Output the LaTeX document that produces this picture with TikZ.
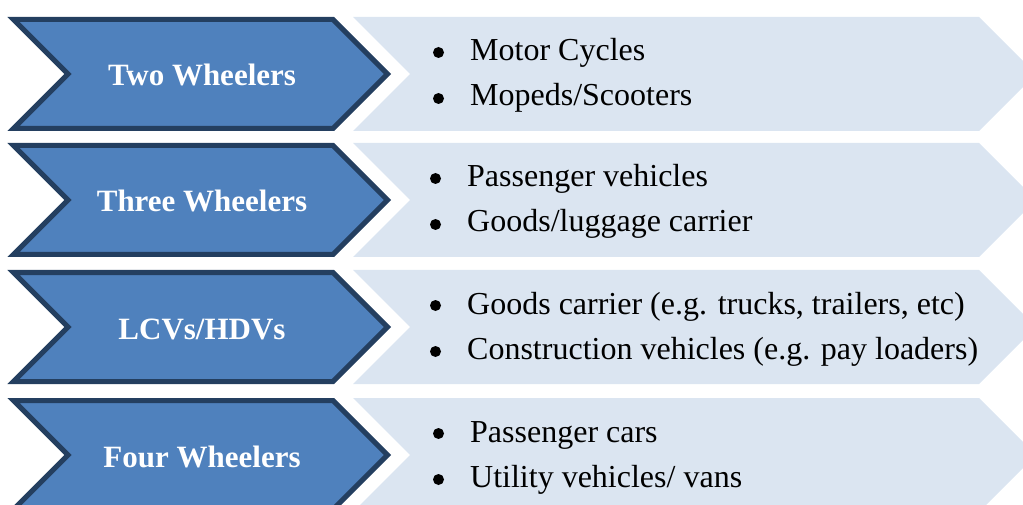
\documentclass[tikz,border=0pt]{standalone}
\usepackage{fontspec}
\setmainfont{Liberation Serif}
\definecolor{chevfill}{HTML}{4F81BD}
\definecolor{chevline}{HTML}{243F60}
\definecolor{listfill}{HTML}{DBE5F1}
\begin{document}
\begin{tikzpicture}[x=1pt,y=-1pt,
  catbox/.style={fill=chevfill,draw=chevline,line width=5pt,line join=miter},
  listbox/.style={fill=listfill},
  bulletdot/.style={fill=black},
  cattext/.style={text=white,font=\fontsize{31}{36}\selectfont\bfseries,inner sep=0,anchor=base},
  itemtext/.style={font=\fontsize{32}{36}\selectfont,inner sep=0,anchor=base west}]
\useasboundingbox (0,0) rectangle (1023,505);
\clip (0,0) rectangle (1023,505);
\foreach \c/\b in {74/438.5,200/435.5,327/435.5,455/438.5}{
  \fill[listbox] (353,\c-57) -- (979,\c-57) -- (1036,\c) -- (979,\c+57) -- (353,\c+57) -- (410,\c) -- cycle;
  \draw[catbox] (13.5,\c-54.5) -- (333,\c-54.5) -- (387.5,\c) -- (333,\c+54.5) -- (13.5,\c+54.5) -- (68,\c) -- cycle;
  \fill[bulletdot] (\b,\c-21.5) circle[radius=5.5pt];
  \fill[bulletdot] (\b,\c+24.5) circle[radius=5.5pt];
}
% row 1
\node[cattext] (two) at (202,86) {Two Wheelers};
\node[itemtext] (two1) at (470,61) {Motor Cycles};
\node[itemtext] (two2) at (470,106) {Mopeds/Scooters};
% row 2
\node[cattext] (three) at (202,212) {Three Wheelers};
\node[itemtext] (three1) at (467,187) {Passenger vehicles};
\node[itemtext] (three2) at (467,232) {Goods/luggage carrier};
% row 3
\node[cattext] (lcv) at (202,339) {LCVs/HDVs};
\node[itemtext] (lcv1) at (467,314) {Goods carrier (e.g. trucks, trailers, etc)};
\node[itemtext] (lcv2) at (467,359) {Construction vehicles (e.g. pay loaders)};
% row 4
\node[cattext] (four) at (202,467) {Four Wheelers};
\node[itemtext] (four1) at (470,442) {Passenger cars};
\node[itemtext] (four2) at (470,487) {Utility vehicles/ vans};
\end{tikzpicture}
\end{document}
